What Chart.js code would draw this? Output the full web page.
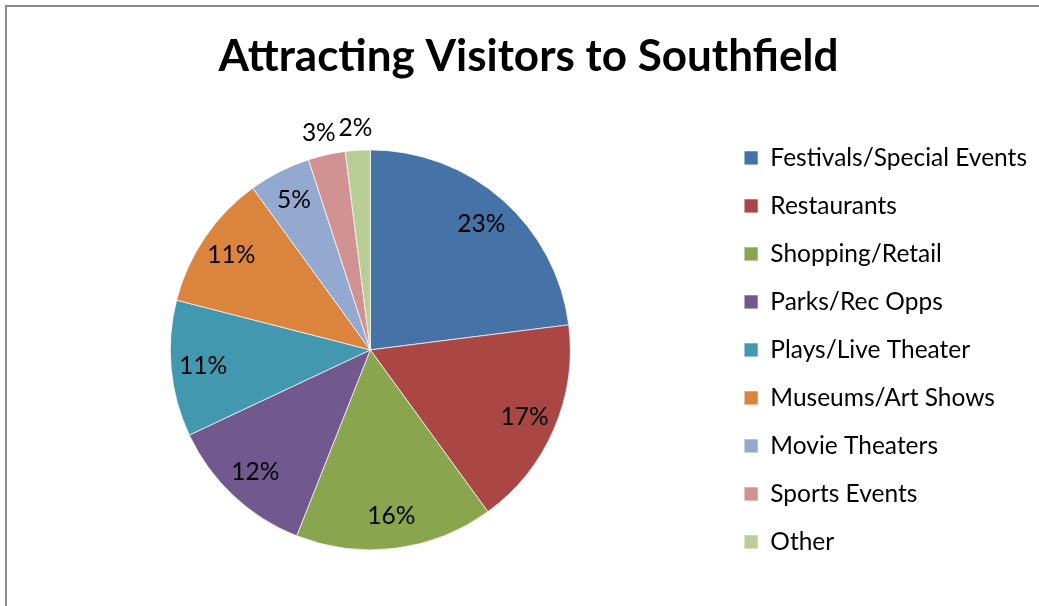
<!DOCTYPE html>
<html>
<head>
<meta charset="utf-8">
<script src="https://cdn.jsdelivr.net/npm/chart.js@4"></script>
<style>
  html, body { margin: 0; padding: 0; background: #fff; }
  body { width: 1039px; height: 606px; overflow: hidden; position: relative; }
  .frame {
    position: absolute; left: 5px; top: 5px; width: 1100px; height: 700px;
    border-left: 2px solid #8c8c8c; border-top: 2px solid #8c8c8c;
  }
  .wrap { position: absolute; left: 0; top: 0; width: 1039px; height: 606px; }
</style>
</head>
<body>
<div class="frame"></div>
<div class="wrap"><canvas id="visitors-chart"></canvas></div>
<script>
// Survey shares, in percent
const categories = [
  'Festivals/Special Events',
  'Restaurants',
  'Shopping/Retail',
  'Parks/Rec Opps',
  'Plays/Live Theater',
  'Museums/Art Shows',
  'Movie Theaters',
  'Sports Events',
  'Other',
];
const shares = [23, 17, 16, 12, 11, 11, 5, 3, 2];
const sliceColors = [
  '#4572a7', '#aa4643', '#89a54e', '#71588f', '#4198af',
  '#db843d', '#93a9cf', '#d19392', '#b9cd96',
];

const FONT = 'Lato, "Open Sans", sans-serif';
const LABEL_SIZE = 24.5;

// Percent labels: inside the slice, or just outside for thin ones
const sliceLabels = {
  id: 'sliceLabels',
  afterDatasetsDraw(chart) {
    const { ctx } = chart;
    const meta = chart.getDatasetMeta(0);
    ctx.save();
    ctx.font = `${LABEL_SIZE}px ${FONT}`;
    ctx.fillStyle = '#000';
    ctx.textAlign = 'center';
    ctx.textBaseline = 'middle';
    meta.data.forEach((arc, i) => {
      const value = chart.data.datasets[0].data[i];
      const mid = (arc.startAngle + arc.endAngle) / 2;
      const outside = value < 4;
      const r = outside ? arc.outerRadius + 22 : arc.outerRadius * 0.84;
      // nudge outside labels sideways so neighbours don't crowd
      const dx = outside ? Math.cos(mid) * 14 : 0;
      ctx.fillText(`${value}%`, arc.x + Math.cos(mid) * r + dx, arc.y + Math.sin(mid) * r);
    });
    ctx.restore();
  },
};

new Chart(document.getElementById('visitors-chart'), {
  type: 'pie',
  data: {
    labels: categories,
    datasets: [
      {
        data: shares,
        backgroundColor: sliceColors,
        borderColor: 'rgba(255, 255, 255, 0.7)',
        borderWidth: 1,
      },
    ],
  },
  options: {
    responsive: true,
    maintainAspectRatio: false,
    animation: false,
    radius: 200,
    layout: {
      padding: { left: 20, right: 2, top: 0, bottom: 22 },
    },
    plugins: {
      title: {
        display: true,
        text: 'Attracting Visitors to Southfield',
        color: '#000',
        font: { family: FONT, size: 44, weight: 'bold' },
        padding: { top: 30, bottom: 33 },
      },
      legend: {
        position: 'right',
        fullSize: false,
        labels: {
          color: '#000',
          font: { family: FONT, size: LABEL_SIZE },
          boxWidth: 14,
          boxHeight: 14,
          padding: 48 - LABEL_SIZE,
        },
      },
      tooltip: { enabled: false },
    },
  },
  plugins: [sliceLabels],
});
</script>
</body>
</html>
